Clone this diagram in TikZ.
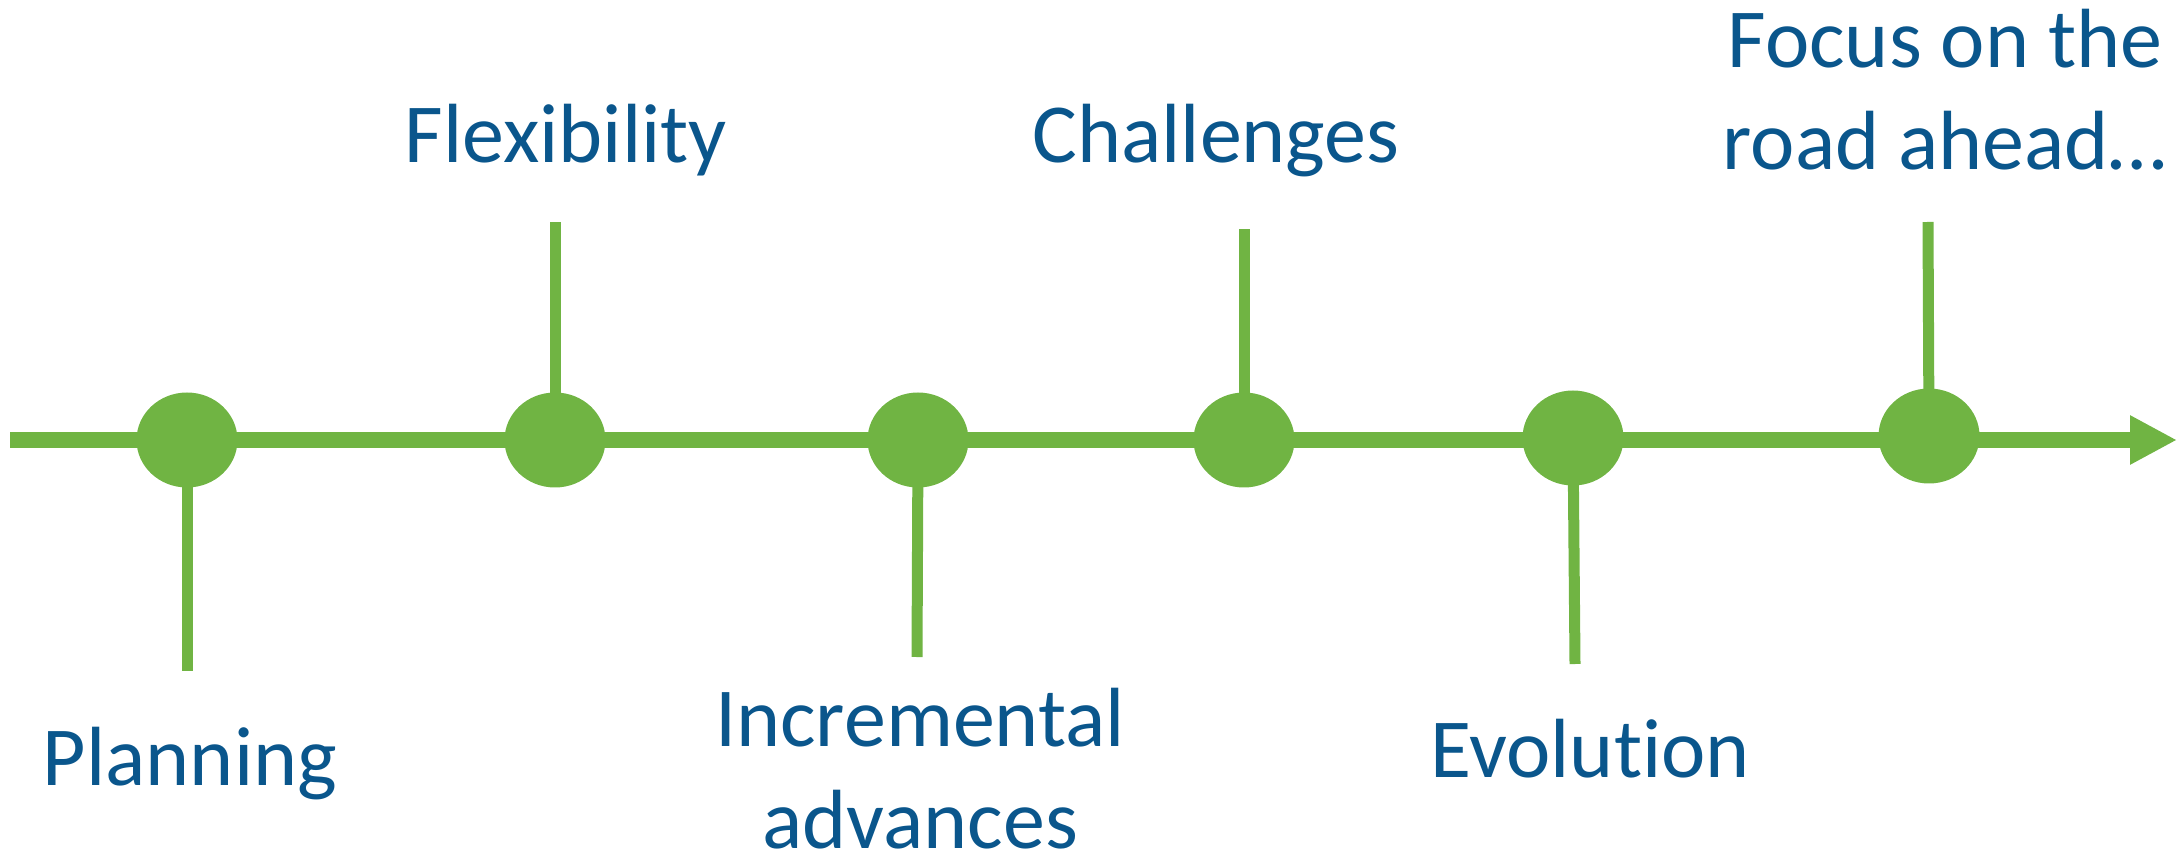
\documentclass[tikz,border=0pt]{standalone}
\usepackage{fontspec}
\setmainfont{Carlito}[Ligatures={NoCommon}]
\usetikzlibrary{shapes.geometric,arrows.meta}
\definecolor{tlgreen}{HTML}{70B443}
\definecolor{tlblue}{HTML}{0A568C}
\pgfdeclarelayer{background}
\pgfsetlayers{background,main}
\tikzset{
  dot/.style={ellipse,fill=tlgreen,draw=none,inner sep=0pt,minimum width=50.5pt,minimum height=47.5pt},
  mainline/.style={draw=tlgreen,line width=8pt,-{Triangle[length=23.5pt,width=23pt]}},
  tick/.style={draw=tlgreen,line width=5.5pt},
  lbl/.style={text=tlblue,font=\fontsize{42pt}{51pt}\selectfont,align=center,anchor=base,inner sep=0pt}
}
\begin{document}
\begin{tikzpicture}[x=0.5pt,y=-0.5pt]
\useasboundingbox (0,0) rectangle (2177,865);
% milestones
\node[dot] (e1) at (187,440) {};
\node[dot] (e2) at (555,440) {};
\node[dot] (e3) at (918,440) {};
\node[dot] (e4) at (1244,440) {};
\node[dot] (e5) at (1573,438) {};
\node[dot] (e6) at (1929,436) {};
% tick ends
\coordinate (t1) at (187,671);
\coordinate (t2) at (555,222);
\coordinate (t3) at (917,657);
\coordinate (t4) at (1244,229);
\coordinate (t5) at (1575,664);
\coordinate (t6) at (1928,222);
\coordinate (start) at (10,440);
\coordinate (tip) at (2177,440);
\begin{pgfonlayer}{background}
\draw[mainline] (start) -- (tip);
\draw[tick] (e1.center) -- (t1);
\draw[tick] (e2.center) -- (t2);
\draw[tick] (e3.center) -- (t3);
\draw[tick] (e4.center) -- (t4);
\draw[tick] (e5.center) -- (t5);
\draw[tick] (e6.center) -- (t6);
\end{pgfonlayer}
% labels (anchor base = baseline of last line)
\node[lbl] (l1) at (190,785) {Planning};
\node[lbl] (l2) at (566,163) {Flexibility};
\node[lbl,text depth=0pt] (l3) at (920,848) {Incremental\\advances};
\node[lbl] (l4) at (1216,163) {Challenges};
\node[lbl] (l5) at (1590,777) {Evolution};
\node[lbl] (l6) at (1945,170) {Focus on the\\road ahead\ldots};
\end{tikzpicture}
\end{document}
